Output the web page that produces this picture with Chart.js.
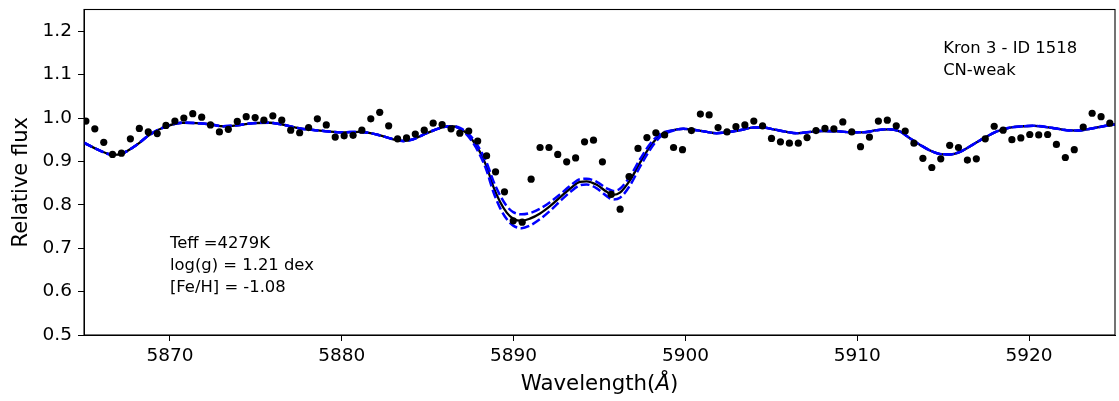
<!DOCTYPE html>
<html>
<head>
<meta charset="utf-8">
<script src="https://cdn.jsdelivr.net/npm/chart.js@4.4.0/dist/chart.umd.min.js"></script>
<style>
  html, body { margin: 0; padding: 0; background: #ffffff; overflow: hidden; }
  canvas { display: block; }
</style>
</head>
<body>
<canvas id="spectrum" width="1119" height="401"></canvas>
<script>
// Observed spectrum (wavelength in Angstrom, normalised flux)
const obsWave = [
  5865.11, 5865.63, 5866.15, 5866.66, 5867.18, 5867.70, 5868.22, 5868.74, 5869.26, 5869.77,
  5870.29, 5870.81, 5871.33, 5871.85, 5872.36, 5872.88, 5873.40, 5873.92, 5874.44, 5874.96,
  5875.47, 5875.99, 5876.51, 5877.03, 5877.55, 5878.07, 5878.58, 5879.10, 5879.62, 5880.14,
  5880.66, 5881.17, 5881.69, 5882.21, 5882.73, 5883.25, 5883.77, 5884.28, 5884.80, 5885.32,
  5885.84, 5886.36, 5886.87, 5887.39, 5887.91, 5888.43, 5888.95, 5889.47, 5889.98, 5890.50,
  5891.02, 5891.54, 5892.06, 5892.57, 5893.09, 5893.61, 5894.13, 5894.65, 5895.17, 5895.68,
  5896.20, 5896.72, 5897.24, 5897.76, 5898.28, 5898.79, 5899.31, 5899.83, 5900.35, 5900.87,
  5901.38, 5901.90, 5902.42, 5902.94, 5903.46, 5903.98, 5904.49, 5905.01, 5905.53, 5906.05,
  5906.57, 5907.08, 5907.60, 5908.12, 5908.64, 5909.16, 5909.68, 5910.19, 5910.71, 5911.23,
  5911.75, 5912.27, 5912.79, 5913.30, 5913.82, 5914.34, 5914.86, 5915.38, 5915.89, 5916.41,
  5916.93, 5917.45, 5917.97, 5918.49, 5919.00, 5919.52, 5920.04, 5920.56, 5921.08, 5921.59,
  5922.11, 5922.63, 5923.15, 5923.67, 5924.19, 5924.70
];
const obsFlux = [
  0.993, 0.975, 0.944, 0.916, 0.919, 0.952, 0.976, 0.968, 0.964, 0.983,
  0.993, 1.000, 1.010, 1.002, 0.984, 0.968, 0.974, 0.992, 1.003, 1.001,
  0.995, 1.005, 0.995, 0.972, 0.966, 0.978, 0.998, 0.984, 0.956, 0.959,
  0.960, 0.972, 0.998, 1.013, 0.982, 0.952, 0.954, 0.963, 0.972, 0.988,
  0.985, 0.975, 0.965, 0.970, 0.947, 0.913, 0.876, 0.830, 0.763, 0.760,
  0.859, 0.932, 0.932, 0.916, 0.899, 0.908, 0.945, 0.949, 0.899, 0.824,
  0.790, 0.865, 0.930, 0.955, 0.966, 0.961, 0.932, 0.927, 0.971, 1.009,
  1.007, 0.978, 0.968, 0.980, 0.984, 0.993, 0.982, 0.953, 0.945, 0.942,
  0.942, 0.955, 0.971, 0.976, 0.975, 0.991, 0.968, 0.934, 0.956, 0.993,
  0.995, 0.982, 0.970, 0.942, 0.907, 0.886, 0.906, 0.937, 0.932, 0.903,
  0.906, 0.952, 0.981, 0.972, 0.950, 0.954, 0.962, 0.961, 0.962, 0.939,
  0.909, 0.927, 0.979, 1.011, 1.003, 0.988
];

// Synthetic spectra: best fit, and weaker / stronger Na abundance variants
const modelWave = [
  5865.00, 5865.81, 5866.68, 5867.21, 5868.06, 5868.84, 5869.81, 5870.76, 5871.55, 5872.39,
  5873.10, 5873.88, 5874.83, 5875.82, 5876.40, 5877.57, 5878.73, 5879.90, 5881.06, 5882.03,
  5883.00, 5883.58, 5884.16, 5884.94, 5885.91, 5886.40, 5886.88, 5887.46, 5888.04, 5888.43,
  5888.82, 5889.21, 5889.60, 5889.98, 5890.47, 5890.95, 5891.54, 5892.12, 5892.70, 5893.28,
  5893.86, 5894.25, 5894.84, 5895.42, 5895.80, 5896.19, 5896.78, 5897.36, 5897.94, 5898.52,
  5899.30, 5899.88, 5900.46, 5901.24, 5901.82, 5902.40, 5903.18, 5903.95, 5904.53, 5905.12,
  5905.90, 5906.48, 5907.06, 5907.83, 5909.00, 5909.58, 5910.36, 5911.14, 5911.81, 5912.49,
  5913.07, 5913.66, 5914.24, 5914.82, 5915.40, 5915.98, 5916.57, 5917.34, 5918.12, 5918.89,
  5919.67, 5920.25, 5921.22, 5922.19, 5922.78, 5923.55, 5924.32, 5925.00
];
const modelBest = [
  0.943, 0.927, 0.915, 0.918, 0.938, 0.962, 0.981, 0.989, 0.988, 0.985,
  0.981, 0.983, 0.988, 0.989, 0.986, 0.976, 0.971, 0.967, 0.968, 0.962,
  0.951, 0.947, 0.951, 0.965, 0.979, 0.981, 0.976, 0.957, 0.922, 0.888,
  0.842, 0.807, 0.782, 0.768, 0.763, 0.768, 0.780, 0.797, 0.817, 0.837,
  0.853, 0.854, 0.846, 0.830, 0.823, 0.828, 0.857, 0.897, 0.934, 0.960,
  0.972, 0.975, 0.973, 0.968, 0.965, 0.967, 0.972, 0.978, 0.978, 0.974,
  0.968, 0.965, 0.967, 0.970, 0.969, 0.967, 0.967, 0.972, 0.974, 0.969,
  0.953, 0.938, 0.925, 0.917, 0.916, 0.922, 0.935, 0.953, 0.969, 0.978,
  0.981, 0.982, 0.978, 0.972, 0.971, 0.975, 0.981, 0.985
];
const modelWeak = [
  0.943, 0.927, 0.915, 0.918, 0.938, 0.962, 0.981, 0.989, 0.988, 0.985,
  0.981, 0.983, 0.988, 0.989, 0.986, 0.976, 0.971, 0.967, 0.968, 0.962,
  0.951, 0.947, 0.951, 0.965, 0.979, 0.981, 0.977, 0.960, 0.928, 0.897,
  0.855, 0.822, 0.797, 0.783, 0.778, 0.781, 0.791, 0.806, 0.824, 0.843,
  0.859, 0.860, 0.853, 0.838, 0.832, 0.837, 0.866, 0.905, 0.940, 0.963,
  0.972, 0.975, 0.973, 0.968, 0.965, 0.967, 0.972, 0.978, 0.978, 0.974,
  0.968, 0.965, 0.967, 0.970, 0.969, 0.967, 0.967, 0.972, 0.974, 0.969,
  0.953, 0.938, 0.925, 0.917, 0.916, 0.922, 0.935, 0.953, 0.969, 0.978,
  0.981, 0.982, 0.978, 0.972, 0.971, 0.975, 0.981, 0.985
];
const modelStrong = [
  0.943, 0.927, 0.915, 0.918, 0.938, 0.962, 0.981, 0.989, 0.988, 0.985,
  0.981, 0.983, 0.988, 0.989, 0.986, 0.976, 0.971, 0.967, 0.968, 0.962,
  0.951, 0.947, 0.951, 0.965, 0.979, 0.981, 0.975, 0.953, 0.915, 0.879,
  0.830, 0.793, 0.767, 0.752, 0.746, 0.752, 0.767, 0.786, 0.808, 0.829,
  0.845, 0.847, 0.838, 0.820, 0.812, 0.816, 0.845, 0.888, 0.927, 0.956,
  0.971, 0.975, 0.973, 0.968, 0.965, 0.967, 0.972, 0.978, 0.978, 0.974,
  0.968, 0.965, 0.967, 0.970, 0.969, 0.967, 0.967, 0.972, 0.974, 0.969,
  0.953, 0.938, 0.925, 0.917, 0.916, 0.922, 0.935, 0.953, 0.969, 0.978,
  0.981, 0.982, 0.978, 0.972, 0.971, 0.975, 0.981, 0.985
];

const xTicks = [5870, 5880, 5890, 5900, 5910, 5920];
const yTicks = [0.5, 0.6, 0.7, 0.8, 0.9, 1.0, 1.1, 1.2];

const starLabel = ['Kron 3 - ID 1518', 'CN-weak'];
const paramLabel = ['Teff =4279K', 'log(g) = 1.21 dex', '[Fe/H] = -1.08'];
const yTitle = 'Relative flux';

const FONT = '"DejaVu Sans", "Liberation Sans", sans-serif';

const toPoints = (xs, ys) => xs.map((x, i) => ({ x: x, y: ys[i] }));

// Closed box round the plot area, like matplotlib spines
const framePlugin = {
  id: 'frame',
  afterDraw(chart) {
    const { ctx, chartArea: a } = chart;
    ctx.save();
    ctx.strokeStyle = '#000';
    ctx.lineWidth = 1.1;
    ctx.strokeRect(a.left, a.top, a.right - a.left, a.bottom - a.top);
    ctx.restore();
  }
};

// Text boxes anchored in data coordinates (last line on the anchor baseline)
const textPlugin = {
  id: 'notes',
  afterDraw(chart) {
    const { ctx } = chart;
    const xs = chart.scales.x, ys = chart.scales.y;
    const lineGap = 21.6;
    const drawBlock = (lines, xv, yv) => {
      const px = xs.getPixelForValue(xv);
      const py = ys.getPixelForValue(yv);
      lines.forEach((t, i) => {
        ctx.fillText(t, px, py - (lines.length - 1 - i) * lineGap);
      });
    };
    ctx.save();
    ctx.fillStyle = '#000';
    ctx.font = '16.4px ' + FONT;
    ctx.textAlign = 'left';
    ctx.textBaseline = 'alphabetic';
    drawBlock(starLabel, 5915, 1.10);
    drawBlock(paramLabel, 5870, 0.60);

    // x-axis title with an italic Angstrom sign
    const a = chart.chartArea;
    const parts = [
      { t: 'Wavelength(', f: '21.3px ' + FONT },
      { t: 'Å', f: 'italic 21.3px ' + FONT },
      { t: ')', f: '21.3px ' + FONT }
    ];
    let total = 0;
    parts.forEach(p => { ctx.font = p.f; p.w = ctx.measureText(p.t).width; total += p.w; });
    let x = (a.left + a.right) / 2 - total / 2;
    parts.forEach(p => { ctx.font = p.f; ctx.fillText(p.t, x, 390); x += p.w; });

    // y-axis title, rotated
    ctx.font = '21px ' + FONT;
    ctx.textAlign = 'center';
    ctx.textBaseline = 'middle';
    ctx.translate(21.6, (a.top + a.bottom) / 2 + 10);
    ctx.rotate(-Math.PI / 2);
    ctx.fillText(yTitle, 0, 0);
    ctx.restore();
  }
};

new Chart(document.getElementById('spectrum'), {
  type: 'scatter',
  data: {
    datasets: [
      {
        label: 'observed',
        data: toPoints(obsWave, obsFlux),
        showLine: false,
        pointRadius: 3.6,
        pointBackgroundColor: '#000',
        pointBorderWidth: 0,
        order: 0
      },
      {
        label: 'weaker',
        data: toPoints(modelWave, modelWeak),
        showLine: true,
        borderColor: '#0000ff',
        borderWidth: 2.5,
        borderDash: [9, 3.5],
        pointRadius: 0,
        cubicInterpolationMode: 'monotone',
        order: 1
      },
      {
        label: 'stronger',
        data: toPoints(modelWave, modelStrong),
        showLine: true,
        borderColor: '#0000ff',
        borderWidth: 2.5,
        borderDash: [9, 3.5],
        pointRadius: 0,
        cubicInterpolationMode: 'monotone',
        order: 2
      },
      {
        label: 'best fit',
        data: toPoints(modelWave, modelBest),
        showLine: true,
        borderColor: '#000',
        borderWidth: 2.3,
        pointRadius: 0,
        cubicInterpolationMode: 'monotone',
        order: 3
      }
    ]
  },
  options: {
    responsive: false,
    animation: false,
    devicePixelRatio: 1,
    layout: { padding: { top: 9.5, right: 4, left: 0, bottom: 0 } },
    plugins: {
      legend: { display: false },
      tooltip: { enabled: false }
    },
    scales: {
      x: {
        type: 'linear',
        position: 'bottom',
        min: 5865,
        max: 5925,
        afterBuildTicks: s => { s.ticks = xTicks.map(v => ({ value: v })); },
        afterFit: s => { s.height = 66; s.paddingLeft = 0; s.paddingRight = 0; },
        grid: { drawOnChartArea: false, drawTicks: true, tickLength: 6, color: '#000', lineWidth: 1 },
        border: { display: true, color: '#000', width: 1 },
        ticks: {
          color: '#000',
          padding: 4,
          maxRotation: 0,
          font: { family: FONT, size: 18.5 },
          callback: v => String(v)
        },
        title: { display: false }
      },
      y: {
        type: 'linear',
        position: 'left',
        min: 0.5,
        max: 1.25,
        afterBuildTicks: s => { s.ticks = yTicks.map(v => ({ value: v })); },
        afterFit: s => { s.width = 84; s.paddingTop = 0; s.paddingBottom = 0; },
        grid: { drawOnChartArea: false, drawTicks: true, tickLength: 6, color: '#000', lineWidth: 1 },
        border: { display: true, color: '#000', width: 1 },
        ticks: {
          color: '#000',
          padding: 6,
          font: { family: FONT, size: 18.5 },
          callback: v => Number(v).toFixed(1)
        },
        title: { display: false }
      }
    }
  },
  plugins: [framePlugin, textPlugin]
});
</script>
</body>
</html>
